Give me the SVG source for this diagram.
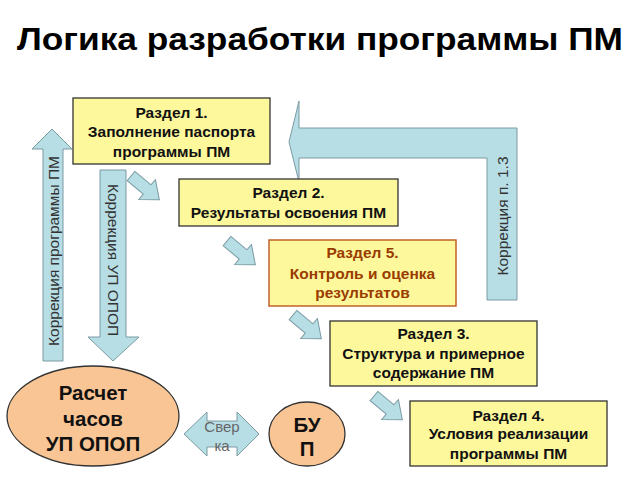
<svg xmlns="http://www.w3.org/2000/svg" width="640" height="480" viewBox="0 0 640 480">
<style>
.box{fill:#FDF89C;stroke:#333;stroke-width:1.3}
.box5{fill:#FDF89C;stroke:#C0602A;stroke-width:1.5}
.arr{fill:#B7DEE5;stroke:#7A9AA3;stroke-width:1}
.ell{fill:#FAC594;stroke:#333;stroke-width:1.3}
.t{font-family:"Liberation Sans",Arial,sans-serif;font-weight:bold;font-size:15.5px;fill:#111;text-anchor:middle;dominant-baseline:central}
.t5{fill:#9A3B00}
.e{font-size:20.5px}
.r{font-family:"Liberation Sans",Arial,sans-serif;font-size:15.5px;fill:#333;text-anchor:middle;dominant-baseline:central}
.title{font-family:"Liberation Sans",Arial,sans-serif;font-weight:bold;font-size:32px;fill:#000;text-anchor:middle}
</style>
<defs>
<path id="sa" d="M0,-6 L21,-6 L21,-13 L37,0 L21,13 L21,6 L0,6 Z"/>
</defs>
<rect width="640" height="480" fill="#fff"/>
<text class="title" x="320" y="50" textLength="606" lengthAdjust="spacingAndGlyphs">Логика разработки программы ПМ</text>

<g id="connectors">
  <g id="corr13">
    <path class="arr" d="M289,142 L299,101 L299,128 L517,128 L517,300 L487,300 L487,158 L299,158 L299,182 Z"/>
    <text class="r" transform="translate(502,216) rotate(-90)">Коррекция п. 1.3</text>
  </g>
  <g id="corrPM">
    <path class="arr" d="M43,361 L43,149 L32,149 L52,129 L72,149 L63,149 L63,361 Z"/>
    <text class="r" transform="translate(53,251) rotate(-90)">Коррекция программы ПМ</text>
  </g>
  <g id="corrUP">
    <path class="arr" d="M100,170 L126,170 L126,337 L139,337 L113,361 L88,337 L100,337 Z"/>
    <text class="r" transform="translate(113,260) rotate(90)">Коррекция УП ОПОП</text>
  </g>
  <use href="#sa" class="arr" transform="translate(131,176) rotate(40)"/>
  <use href="#sa" class="arr" transform="translate(227,241) rotate(40)"/>
  <use href="#sa" class="arr" transform="translate(293,315) rotate(40)"/>
  <use href="#sa" class="arr" transform="translate(374,396) rotate(40)"/>
  <g id="sverka">
    <path class="arr" d="M184,434 L207,412 L207,421 L237,421 L237,412 L259,434 L237,456 L237,447 L207,447 L207,456 Z"/>
    <text class="r" x="222" y="426" style="font-size:15px;fill:#666">Свер</text>
    <text class="r" x="222" y="445" style="font-size:15px;fill:#666">ка</text>
  </g>
</g>

<g id="razdel1">
  <rect class="box" x="73" y="98" width="197" height="66"/>
  <text class="t" x="171.5" y="112">Раздел 1.</text>
  <text class="t" x="171.5" y="131">Заполнение паспорта</text>
  <text class="t" x="171.5" y="151">программы ПМ</text>
</g>
<g id="razdel2">
  <rect class="box" x="179" y="179" width="219" height="47"/>
  <text class="t" x="288.5" y="192">Раздел 2.</text>
  <text class="t" x="288.5" y="212">Результаты освоения ПМ</text>
</g>
<g id="razdel5">
  <rect class="box5" x="269" y="240" width="187" height="66"/>
  <text class="t t5" x="362.5" y="252">Раздел 5.</text>
  <text class="t t5" x="362.5" y="273">Контроль и оценка</text>
  <text class="t t5" x="362.5" y="292">результатов</text>
</g>
<g id="razdel3">
  <rect class="box" x="330" y="321" width="207" height="65"/>
  <text class="t" x="433.5" y="333">Раздел 3.</text>
  <text class="t" x="433.5" y="353">Структура и примерное</text>
  <text class="t" x="433.5" y="372">содержание ПМ</text>
</g>
<g id="razdel4">
  <rect class="box" x="410" y="401" width="197" height="65"/>
  <text class="t" x="508.5" y="415">Раздел 4.</text>
  <text class="t" x="508.5" y="433">Условия реализации</text>
  <text class="t" x="508.5" y="453">программы ПМ</text>
</g>
<g id="raschet">
  <ellipse class="ell" cx="93" cy="416" rx="86" ry="50"/>
  <text class="t e" x="93" y="392">Расчет</text>
  <text class="t e" x="93" y="418">часов</text>
  <text class="t e" x="93" y="443">УП ОПОП</text>
</g>
<g id="bup">
  <ellipse class="ell" cx="307" cy="434" rx="38" ry="32"/>
  <text class="t e" x="307" y="424">БУ</text>
  <text class="t e" x="307" y="448">П</text>
</g>
</svg>
